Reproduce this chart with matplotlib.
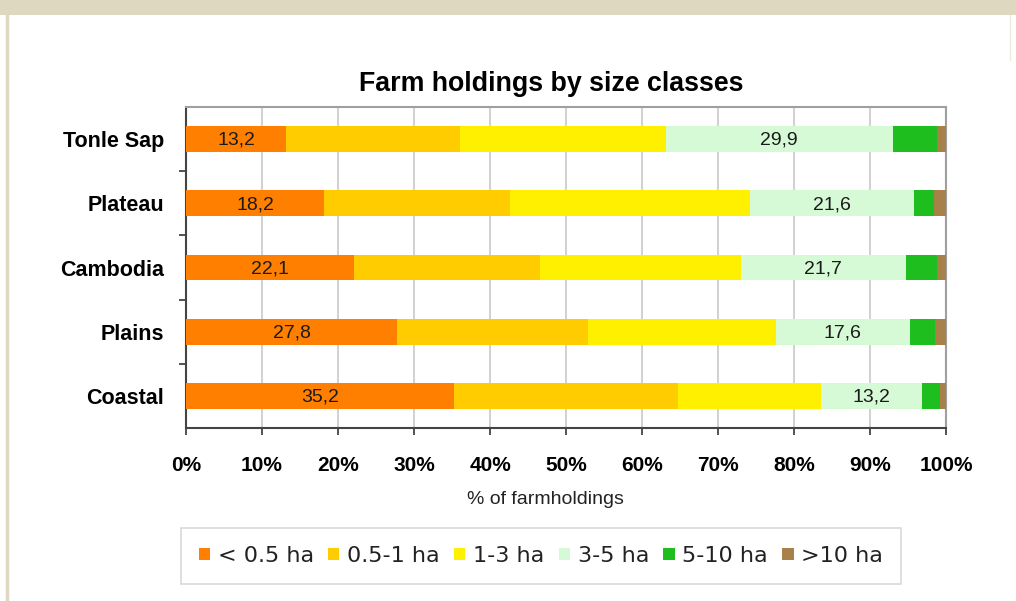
import numpy as np
import matplotlib
matplotlib.use("Agg")
import matplotlib.pyplot as plt
from matplotlib.patches import Patch, Rectangle
from matplotlib.lines import Line2D

# ---- data -------------------------------------------------------------
regions = ["Tonle Sap", "Plateau", "Cambodia", "Plains", "Coastal"]
size_classes = ["< 0.5 ha", "0.5-1 ha", "1-3 ha", "3-5 ha", "5-10 ha", ">10 ha"]

# share of farm holdings (%) per size class, one list per region
tonle_sap = [13.2, 22.8, 27.1, 29.9, 5.8, 1.2]
plateau = [18.2, 24.4, 31.6, 21.6, 2.6, 1.6]
cambodia = [22.1, 24.5, 26.4, 21.7, 4.1, 1.2]
plains = [27.8, 25.1, 24.7, 17.6, 3.4, 1.4]
coastal = [35.2, 29.6, 18.8, 13.2, 2.4, 0.8]

x_ticks = [0, 10, 20, 30, 40, 50, 60, 70, 80, 90, 100]
x_tick_labels = [f"{t}%" for t in x_ticks]

# size classes whose values are printed on the bars
labelled_classes = [0, 3]

colors = ["#FF7F00", "#FFCC00", "#FFF000", "#D6FAD6", "#1FBE1F", "#A8804A"]

# ---- figure -----------------------------------------------------------
W, H = 1016, 601
fig = plt.figure(figsize=(W / 100, H / 100), dpi=100)
fig.patch.set_facecolor("white")

# page frame: beige strip on top and thin side rules
beige = "#DED8C0"
fig.add_artist(Rectangle((0, 1 - 15 / H), 1, 15 / H, transform=fig.transFigure,
                         facecolor=beige, edgecolor="none", zorder=0))
fig.add_artist(Line2D([7 / W, 7 / W], [0, 1], transform=fig.transFigure,
                      color=beige, lw=2.5, zorder=1))
fig.add_artist(Line2D([1010 / W, 1010 / W], [1 - 60 / H, 1 - 15 / H],
                      transform=fig.transFigure, color="#EEEAE0", lw=1.0, zorder=1))

ax = fig.add_axes([186 / W, 1 - 428 / H, (946 - 186) / W, (428 - 107) / H])

data = np.array([tonle_sap, plateau, cambodia, plains, coastal])
ypos = np.arange(len(regions))
left = np.zeros(len(regions))
for k, (name, col) in enumerate(zip(size_classes, colors)):
    vals = data[:, k]
    ax.barh(ypos, vals, left=left, height=0.4, color=col, edgecolor="none",
            zorder=3, label=name)
    if k in labelled_classes:
        for yi, (l, v) in enumerate(zip(left, vals)):
            ax.text(l + v / 2, yi + 0.02, f"{v:.1f}".replace(".", ","), ha="center",
                    va="center", fontsize=14, family="Liberation Sans",
                    color="#1a1a1a", zorder=4)
    left += vals

ax.set_xlim(0, 100)
ax.set_ylim(len(regions) - 0.5, -0.5)

ax.set_xticks(x_ticks)
ax.set_xticklabels(x_tick_labels, fontsize=15, fontweight="bold",
                   family="Liberation Sans")
ax.set_yticks(ypos)
ax.set_yticklabels(regions, fontsize=15.5, fontweight="bold",
                   family="Liberation Sans")
ax.set_yticks(np.arange(0.5, len(regions) - 1, 1.0), minor=True)

ax.tick_params(axis="x", length=5, width=1.3, color="#444444", pad=15, direction="out")
ax.tick_params(axis="y", which="major", length=0, pad=16)
ax.tick_params(axis="y", which="minor", length=5, width=1.3, color="#444444",
               direction="out")

ax.grid(axis="x", color="#D2D2D2", lw=1.5, zorder=0)
ax.set_axisbelow(True)

for side in ("left", "bottom"):
    ax.spines[side].set_color("#444444")
    ax.spines[side].set_linewidth(1.5)
for side in ("top", "right"):
    ax.spines[side].set_color("#A0A0A0")
    ax.spines[side].set_linewidth(1.5)

fig.text(551 / W, 1 - 84 / H, "Farm holdings by size classes", ha="center",
         va="center", fontsize=19.3, fontweight="bold", family="Liberation Sans")
fig.text(545 / W, 1 - 500 / H, "% of farmholdings", ha="center", va="center",
         fontsize=14, family="Liberation Sans", color="#222222")

handles = [Patch(facecolor=c, edgecolor="none") for c in colors]
leg = fig.legend(handles, size_classes, loc="center",
                 bbox_to_anchor=(541 / W, 1 - 556 / H), ncol=6, frameon=True,
                 fancybox=False, edgecolor="#CFCFCF",
                 prop={"family": "DejaVu Sans", "size": 16},
                 handlelength=0.5, handleheight=0.5, handletextpad=0.35,
                 columnspacing=0.65, borderpad=0.8)
leg.get_frame().set_linewidth(1.2)
for t in leg.get_texts():
    t.set_color("#222222")

fig.savefig("out.png", dpi=100)
